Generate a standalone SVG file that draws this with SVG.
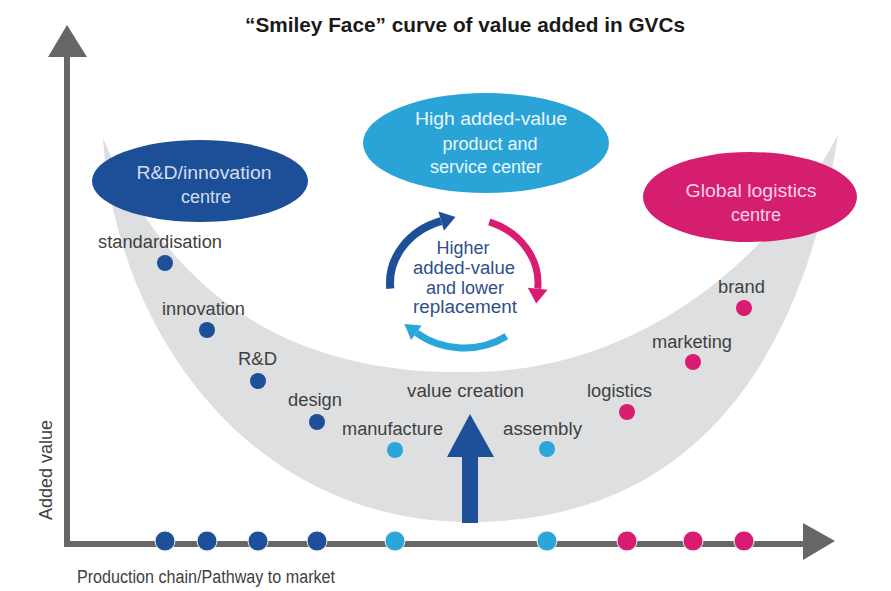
<svg xmlns="http://www.w3.org/2000/svg" width="891" height="591" viewBox="0 0 891 591">
<style>
.lbl{font-family:"Liberation Sans",Arial,sans-serif;font-size:18px;fill:#3f3f3f}
.ell{font-family:"Liberation Sans",Arial,sans-serif;font-size:18px;text-anchor:middle}
.cyc{font-family:"Liberation Sans",Arial,sans-serif;font-size:18px;fill:#2f4f8c;text-anchor:middle}
.dk{fill:#1e4f99}
.lt{fill:#2ba6da}
.pk{fill:#d91c72}
.ax{fill:none;stroke:#666;stroke-width:6}
.axd{stroke:#eef2f7;stroke-width:1}
</style>
<rect width="891" height="591" fill="#fff"/>
<text x="465" y="32" font-family="Liberation Sans,Arial,sans-serif" font-weight="bold" font-size="20.5" fill="#1a1a1a" text-anchor="middle" textLength="440" lengthAdjust="spacingAndGlyphs">“Smiley Face” curve of value added in GVCs</text>

<g id="smile">
<path d="M103,138 C115,330 250,522 470,522 C680,522 800,380 838,135 C760,280 620,372 470,372 C320,375 180,320 103,138 Z" fill="#dddfe1"/>
</g>

<g id="connectors">
<path class="ax" d="M67,57 V544 H805"/>
<polygon points="48,57 67,25 87,57" fill="#666"/>
<polygon points="803,523 835,541 803,560" fill="#666"/>
<path d="M390.3,288.7 A74,65 0 0 1 441.1,221.2" fill="none" stroke="#1e4f99" stroke-width="8"/>
<polygon points="438.4,211.6 455.5,217.1 443.9,230.8" fill="#1e4f99"/>
<path d="M489.3,221.9 A74,65 0 0 1 537.7,288.7" fill="none" stroke="#d91c72" stroke-width="7"/>
<polygon points="527.8,287.7 547.6,289.7 536.2,303.6" fill="#d91c72"/>
<path d="M506.4,336.2 A74,65 0 0 1 416.4,332.8" fill="none" stroke="#2ba6da" stroke-width="7"/>
<polygon points="421.7,325.6 411.1,340 404.4,323.9" fill="#2ba6da"/>
<polygon points="462,523 478,523 478,457 494,457 470,414 447,457 462,457" fill="#1e4f99"/>
</g>

<g id="rd-centre">
<ellipse cx="200" cy="181" rx="108" ry="41" fill="#1c4f97"/>
<text class="ell" x="204" y="179" fill="#d2def0" textLength="135" lengthAdjust="spacingAndGlyphs">R&amp;D/innovation</text>
<text class="ell" x="206" y="203" fill="#d2def0">centre</text>
</g>
<g id="high-value-centre">
<ellipse cx="486" cy="143" rx="123" ry="50" fill="#2aa4d7"/>
<text class="ell" x="491" y="125" fill="#eaf6fc" textLength="152" lengthAdjust="spacingAndGlyphs">High added-value</text>
<text class="ell" x="490" y="150" fill="#eaf6fc">product and</text>
<text class="ell" x="486" y="173" fill="#eaf6fc">service center</text>
</g>
<g id="logistics-centre">
<ellipse cx="750" cy="197" rx="107" ry="45" fill="#d61e70"/>
<text class="ell" x="751" y="197" fill="#f8d3e4" textLength="131" lengthAdjust="spacingAndGlyphs">Global logistics</text>
<text class="ell" x="756" y="221" fill="#f8d3e4">centre</text>
</g>

<g id="cycle-text">
<text class="cyc" x="463" y="254">Higher</text>
<text class="cyc" x="464" y="274" textLength="102" lengthAdjust="spacingAndGlyphs">added-value</text>
<text class="cyc" x="465" y="294">and lower</text>
<text class="cyc" x="465" y="313" textLength="104" lengthAdjust="spacingAndGlyphs">replacement</text>
</g>

<g id="standardisation"><circle class="dk" cx="165" cy="263" r="8"/><text class="lbl" x="98" y="248" textLength="124" lengthAdjust="spacingAndGlyphs">standardisation</text></g>
<g id="innovation"><circle class="dk" cx="207" cy="330" r="8"/><text class="lbl" x="162" y="315" textLength="83" lengthAdjust="spacingAndGlyphs">innovation</text></g>
<g id="rd"><circle class="dk" cx="258" cy="381" r="8"/><text class="lbl" x="238" y="365" textLength="39" lengthAdjust="spacingAndGlyphs">R&amp;D</text></g>
<g id="design"><circle class="dk" cx="317" cy="422" r="8"/><text class="lbl" x="288" y="406" textLength="54" lengthAdjust="spacingAndGlyphs">design</text></g>
<g id="manufacture"><circle class="lt" cx="395" cy="450" r="8"/><text class="lbl" x="342" y="435" textLength="101" lengthAdjust="spacingAndGlyphs">manufacture</text></g>
<g id="value-creation"><text class="lbl" x="407" y="397" textLength="117" lengthAdjust="spacingAndGlyphs">value creation</text></g>
<g id="assembly"><circle class="lt" cx="547" cy="449" r="8"/><text class="lbl" x="503" y="435" textLength="79" lengthAdjust="spacingAndGlyphs">assembly</text></g>
<g id="logistics"><circle class="pk" cx="627" cy="412" r="8"/><text class="lbl" x="587" y="397" textLength="65" lengthAdjust="spacingAndGlyphs">logistics</text></g>
<g id="marketing"><circle class="pk" cx="693" cy="362" r="8"/><text class="lbl" x="652" y="348" textLength="80" lengthAdjust="spacingAndGlyphs">marketing</text></g>
<g id="brand"><circle class="pk" cx="744" cy="308" r="8"/><text class="lbl" x="718" y="293" textLength="47" lengthAdjust="spacingAndGlyphs">brand</text></g>

<g id="axis-dots">
<circle class="dk axd" cx="165" cy="541" r="10"/>
<circle class="dk axd" cx="207" cy="541" r="10"/>
<circle class="dk axd" cx="258" cy="541" r="10"/>
<circle class="dk axd" cx="317" cy="541" r="10"/>
<circle class="lt axd" cx="395" cy="541" r="10"/>
<circle class="lt axd" cx="547" cy="541" r="10"/>
<circle class="pk axd" cx="627" cy="541" r="10"/>
<circle class="pk axd" cx="693" cy="541" r="10"/>
<circle class="pk axd" cx="744" cy="541" r="10"/>
</g>

<g id="axis-labels">
<text class="lbl" transform="translate(52,520) rotate(-90)" textLength="100" lengthAdjust="spacingAndGlyphs">Added value</text>
<text class="lbl" x="77" y="583" font-size="16" textLength="258" lengthAdjust="spacingAndGlyphs">Production chain/Pathway to market</text>
</g>
</svg>
